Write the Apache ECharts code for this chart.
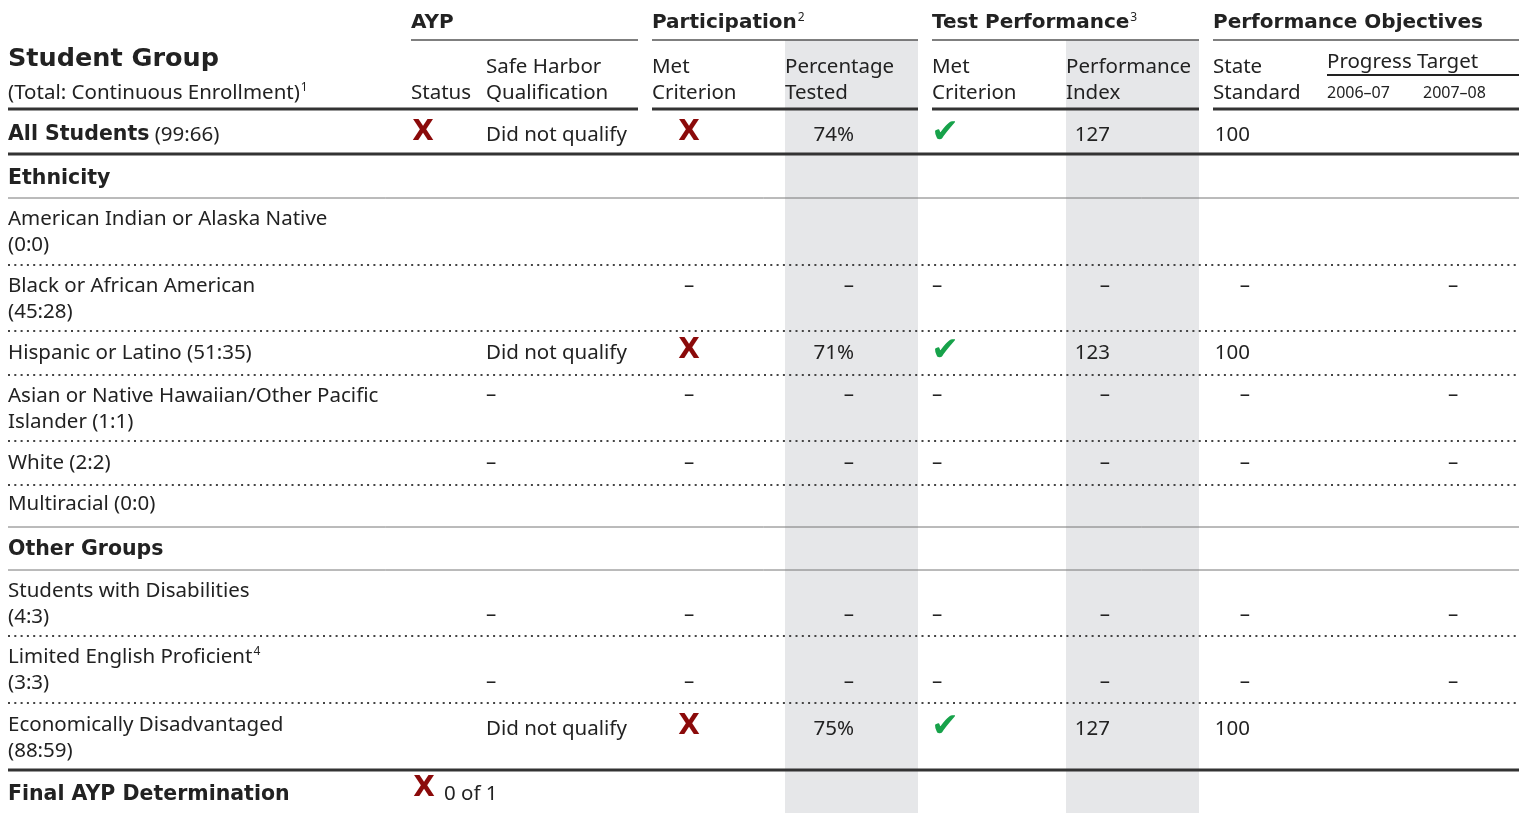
<!DOCTYPE html>
<html>
<head>
<meta charset="utf-8">
<title>AYP Student Group Table</title>
<script src="https://cdn.jsdelivr.net/npm/echarts@6/dist/echarts.min.js"></script>
<style>
	html, body { margin: 0; padding: 0; background: #fff; }
	#table { width: 1520px; height: 813px; }
</style>
</head>
<body>
<div id="table"></div>
<script>
// ---- data ----
var headerGroups = ['AYP', 'Participation', 'Test Performance', 'Performance Objectives'];
var headerGroupNotes = ['', '2', '3', ''];
var columnTitles = ['Status', 'Safe Harbor\nQualification', 'Met\nCriterion', 'Percentage\nTested',
	'Met\nCriterion', 'Performance\nIndex', 'State\nStandard', '2006–07', '2007–08'];
var progressTitle = 'Progress Target';

var sectionNames = ['Ethnicity', 'Other Groups'];
var groupNames = ['All Students', 'American Indian or Alaska Native', 'Black or African American',
	'Hispanic or Latino', 'Asian or Native Hawaiian/Other Pacific\nIslander', 'White', 'Multiracial',
	'Students with Disabilities', 'Limited English Proficient', 'Economically Disadvantaged'];
var groupNotes = ['', '', '', '', '', '', '', '', '4', ''];
var enrollment = ['99:66', '0:0', '45:28', '51:35', '1:1', '2:2', '0:0', '4:3', '3:3', '88:59'];

// 'fail' = red cross, 'pass' = green check
var aypStatus     = ['fail', '', '', '', '', '', '', '', '', ''];
var safeHarbor    = ['Did not qualify', '', '', 'Did not qualify', '–', '–', '', '–', '–', 'Did not qualify'];
var partMet       = ['fail', '', '–', 'fail', '–', '–', '', '–', '–', 'fail'];
var pctTested     = ['74%', '', '–', '71%', '–', '–', '', '–', '–', '75%'];
var testMet       = ['pass', '', '–', 'pass', '–', '–', '', '–', '–', 'pass'];
var perfIndex     = ['127', '', '–', '123', '–', '–', '', '–', '–', '127'];
var stateStandard = ['100', '', '–', '100', '–', '–', '', '–', '–', '100'];
var target0607    = ['', '', '', '', '', '', '', '', '', ''];
var target0708    = ['', '', '–', '', '–', '–', '', '–', '–', ''];

var finalLabel = 'Final AYP Determination';
var finalStatus = 'fail';
var finalCount = '0 of 1';

// ---- layout ----
var FONT = '"Noto Sans", sans-serif';
var BOLD_FONT = '"DejaVu Sans", sans-serif';
var INK = '#222';
var FS = 20.5;
var COL_X = [8, 411, 486, 652, 785, 932, 1066, 1213, 1327, 1423];
var GROUP_X = [411, 652, 932, 1213];
var VALUE_ANCHOR = [
	{x: 423, align: 'center'}, {x: 486, align: 'left'}, {x: 689, align: 'center'},
	{x: 854, align: 'right'}, {x: 932, align: 'left'}, {x: 1110, align: 'right'},
	{x: 1250, align: 'right'}, {x: 1360, align: 'center'}, {x: 1453, align: 'center'}
];
var NAME_Y = [135, 219, 286, 353, 396, 463, 504, 591, 657, 725];
var VALUE_Y = [135, 0, 286, 353, 395, 463, 0, 615, 682, 729];
var COUNT_WRAP = [false, true, true, false, false, false, false, true, true, true];
var SECTION_Y = [179, 550];
var FINAL_Y = 795;
var LH = 26;
var BANDS = [[785, 918], [1066, 1199]];
var SEGS = [[8, 638], [652, 918], [932, 1199], [1213, 1519]];
var rules = [];
SEGS.forEach(function (s, i) {
	rules.push({y: 40, x1: i === 0 ? 411 : s[0], x2: s[1], w: 1.5, c: '#555'});
	rules.push({y: 109, x1: s[0], x2: s[1], w: 3, c: '#333'});
});
rules.push({y: 75, x1: 1327, x2: 1519, w: 2, c: '#222'});
[154, 770].forEach(function (y) { rules.push({y: y, x1: 8, x2: 1519, w: 3, c: '#333'}); });
[198, 527, 570].forEach(function (y) { rules.push({y: y, x1: 8, x2: 1519, w: 1, c: '#777'}); });
[265, 331, 375, 441, 485, 636, 703].forEach(function (y) {
	rules.push({y: y, x1: 8, x2: 1519, w: 2, c: '#444', dash: [2, 4.3]});
});

var RICH = {
	b: {fontFamily: BOLD_FONT, fontWeight: 'bold', fontSize: 20.5, fill: INK, lineHeight: LH},
	sup: {fontFamily: FONT, fontSize: 12, verticalAlign: 'top', lineHeight: LH, padding: [2, 0, 0, 1]}
};

// ---- cells ----
var cells = [];
function addText(x, y, text, o) {
	o = o || {};
	var bold = o.weight === 'bold';
	cells.push({x: x, y: y, text: text, size: o.size || (bold ? 20 : FS), weight: o.weight || 'normal',
		align: o.align || 'left', va: o.va || 'firstline', fill: o.fill || INK,
		family: o.family || (bold ? BOLD_FONT : FONT)});
}
function addMark(x, y, kind, align) {
	if (kind === 'fail') {
		addText(x + (align === 'left' ? 11 : 0), y - 2, 'X', {family: 'DejaVu Sans', weight: 'bold', size: 28,
			fill: '#8b0a0a', align: 'center', va: 'middle'});
	} else if (kind === 'pass') {
		addText(x + (align === 'left' ? 13 : 0), y - 2, '✔', {family: 'DejaVu Sans', size: 33, fill: '#17a24a',
			align: 'center', va: 'middle'});
	} else if (kind) {
		addText(x, y, kind, {align: align});
	}
}

headerGroups.forEach(function (g, i) {
	addText(GROUP_X[i], 23, g + (headerGroupNotes[i] ? '{sup|' + headerGroupNotes[i] + '}' : ''), {weight: 'bold'});
});
addText(COL_X[0], 59, 'Student Group', {weight: 'bold', size: 25.5});
addText(COL_X[0], 93, '(Total: Continuous Enrollment){sup|1}');
columnTitles.forEach(function (t, i) {
	addText(COL_X[i + 1], 93 + LH / 2, t, {va: 'bottom', size: i >= 7 ? 16 : FS});
});
addText(COL_X[8], 62, progressTitle);

sectionNames.forEach(function (s, i) {
	addText(COL_X[0], SECTION_Y[i], s, {weight: 'bold', size: 20.5});
});

var columns = [aypStatus, safeHarbor, partMet, pctTested, testMet, perfIndex, stateStandard, target0607, target0708];
groupNames.forEach(function (name, r) {
	var label = (r === 0 ? '{b|' + name + '}' : name) + (groupNotes[r] ? '{sup|' + groupNotes[r] + '}' : '') +
		(COUNT_WRAP[r] ? '\n' : ' ') + '(' + enrollment[r] + ')';
	addText(COL_X[0], NAME_Y[r], label);
	columns.forEach(function (col, c) {
		if (col[r]) {
			addMark(VALUE_ANCHOR[c].x, VALUE_Y[r], col[r], VALUE_ANCHOR[c].align);
		}
	});
});
addText(COL_X[0], FINAL_Y, finalLabel, {weight: 'bold', size: 20.5});
addMark(424, FINAL_Y - 4, finalStatus, 'center');
addText(444, FINAL_Y - 1, finalCount);

// ---- chart ----
var chart = echarts.init(document.getElementById('table'));

function renderBand(params, api) {
	var b = BANDS[params.dataIndex];
	var p1 = api.coord([b[0], 40]);
	var p2 = api.coord([b[1], 813]);
	return {type: 'rect', shape: {x: p1[0], y: p1[1], width: p2[0] - p1[0], height: p2[1] - p1[1]},
		style: {fill: '#e6e7e9'}};
}
function renderRule(params, api) {
	var r = rules[params.dataIndex];
	var p1 = api.coord([r.x1, r.y]);
	var p2 = api.coord([r.x2, r.y]);
	return {type: 'line', shape: {x1: p1[0], y1: p1[1], x2: p2[0], y2: p2[1]},
		style: {stroke: r.c, lineWidth: r.w, lineDash: r.dash || null}};
}
function renderCell(params, api) {
	var c = cells[params.dataIndex];
	var p = api.coord([c.x, c.y]);
	var va = c.va, y = p[1];
	if (va === 'firstline') { va = 'top'; y = y - LH / 2; }
	return {type: 'text', x: p[0], y: y,
		style: {text: c.text, fill: c.fill, fontFamily: c.family, fontSize: c.size, fontWeight: c.weight,
			align: c.align, verticalAlign: va, lineHeight: LH, rich: RICH}};
}

chart.setOption({
	animation: false,
	grid: {left: 0, right: 0, top: 0, bottom: 0},
	xAxis: {type: 'value', min: 0, max: 1520, show: false},
	yAxis: {type: 'value', min: 0, max: 813, inverse: true, show: false},
	series: [
		{type: 'custom', silent: true, clip: false, z: 1, renderItem: renderBand,
			data: BANDS.map(function (b) { return [b[0], 40]; })},
		{type: 'custom', silent: true, clip: false, z: 2, renderItem: renderRule,
			data: rules.map(function (r) { return [r.x1, r.y]; })},
		{type: 'custom', silent: true, clip: false, z: 3, renderItem: renderCell,
			data: cells.map(function (c) { return [c.x, c.y]; })}
	]
});
</script>
</body>
</html>
